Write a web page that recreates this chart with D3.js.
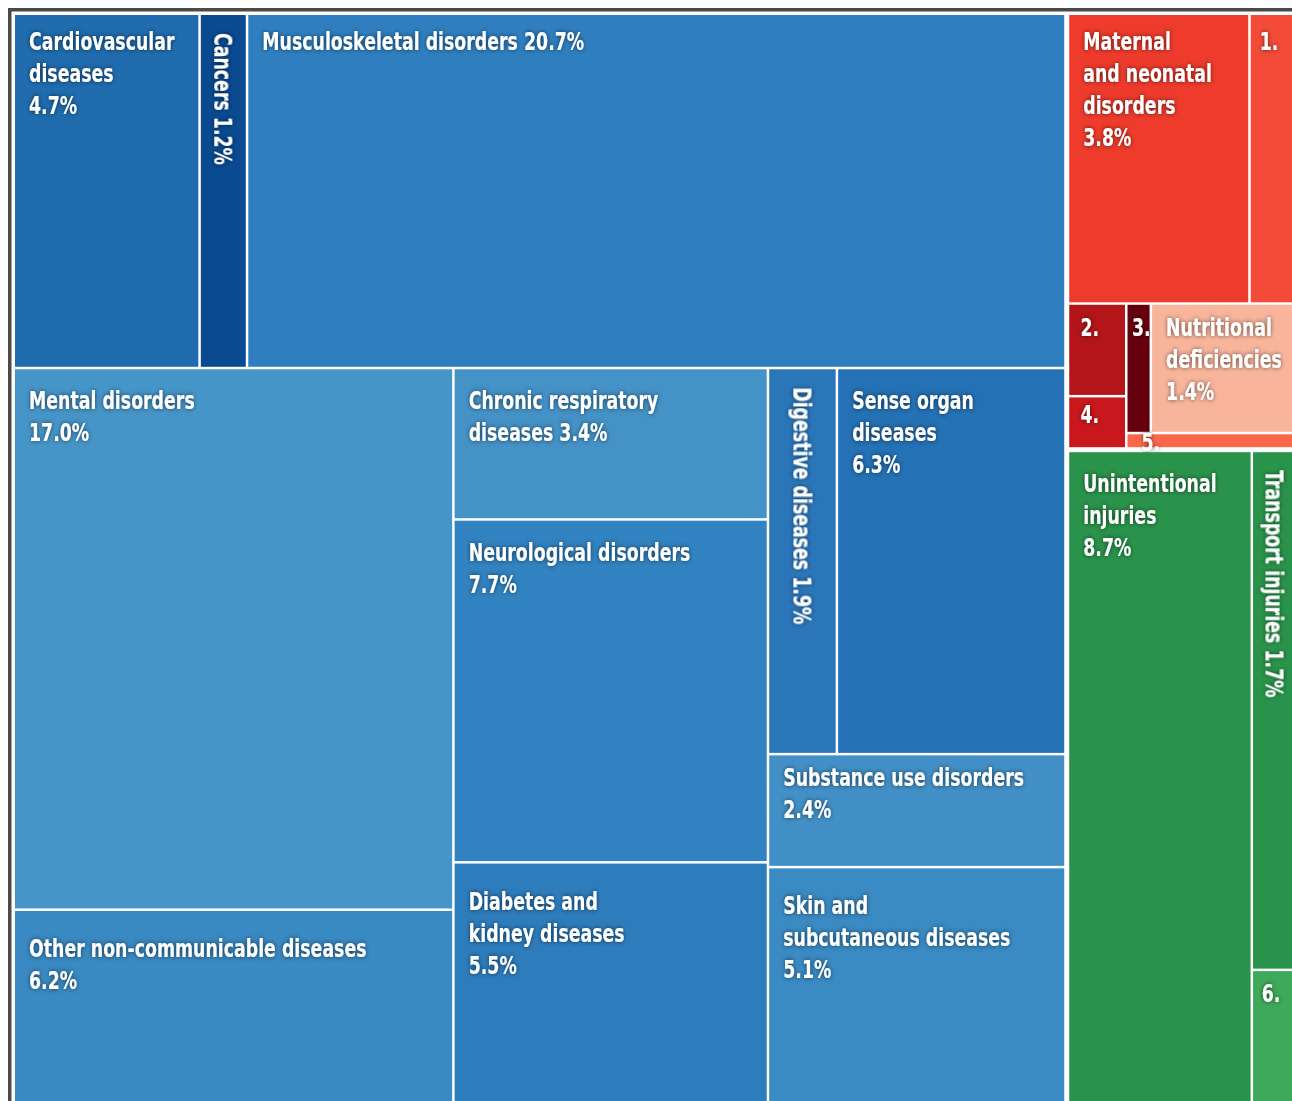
<!DOCTYPE html>
<html>
<head>
<meta charset="utf-8">
<script src="https://cdn.jsdelivr.net/npm/d3@7"></script>
<style>
  body { margin: 0; background: #fff; overflow: hidden; }
  svg { display: block; }
  text { font-family: "DejaVu Sans Condensed", "DejaVu Sans", sans-serif; font-weight: bold; fill: #fff; }
</style>
</head>
<body>
<svg id="chart" width="1292" height="1101"></svg>
<script>
// Non-communicable diseases (blue), share of total in %
const ncdTopRow = ['Cardiovascular diseases', 'Cancers', 'Musculoskeletal disorders'];
const ncdTopRowValues = [4.7, 1.2, 20.7];
const ncdCol1 = ['Mental disorders', 'Other non-communicable diseases'];
const ncdCol1Values = [17.0, 6.2];
const ncdCol2 = ['Chronic respiratory diseases', 'Neurological disorders', 'Diabetes and kidney diseases'];
const ncdCol2Values = [3.4, 7.7, 5.5];
const ncdCol3Pair = ['Digestive diseases', 'Sense organ diseases'];
const ncdCol3PairValues = [1.9, 6.3];
const ncdCol3 = ['Substance use disorders', 'Skin and subcutaneous diseases'];
const ncdCol3Values = [2.4, 5.1];

// Communicable, maternal, neonatal and nutritional (red)
const cmnnTopRow = ['Maternal and neonatal disorders', '1.'];
const cmnnTopRowValues = [3.8, 1.0];
const cmnnCol = ['2.', '4.'];
const cmnnColValues = [0.39, 0.22];
const cmnnPair = ['3.', 'Nutritional deficiencies'];
const cmnnPairValues = [0.23, 1.37];
const cmnnStrip = ['5.'];
const cmnnStripValues = [0.19];

// Injuries (green)
const injLeft = ['Unintentional injuries'];
const injLeftValues = [8.7];
const injCol = ['Transport injuries', '6.'];
const injColValues = [1.7, 0.45];

// how the labels break, {v} is the formatted share
const labelLines = {
  'Cardiovascular diseases': ['Cardiovascular', 'diseases', '{v}'],
  'Cancers': ['Cancers {v}'],
  'Musculoskeletal disorders': ['Musculoskeletal disorders {v}'],
  'Mental disorders': ['Mental disorders', '{v}'],
  'Other non-communicable diseases': ['Other non-communicable diseases', '{v}'],
  'Chronic respiratory diseases': ['Chronic respiratory', 'diseases {v}'],
  'Neurological disorders': ['Neurological disorders', '{v}'],
  'Diabetes and kidney diseases': ['Diabetes and', 'kidney diseases', '{v}'],
  'Digestive diseases': ['Digestive diseases {v}'],
  'Sense organ diseases': ['Sense organ', 'diseases', '{v}'],
  'Substance use disorders': ['Substance use disorders', '{v}'],
  'Skin and subcutaneous diseases': ['Skin and', 'subcutaneous diseases', '{v}'],
  'Maternal and neonatal disorders': ['Maternal', 'and neonatal', 'disorders', '{v}'],
  'Nutritional deficiencies': ['Nutritional', 'deficiencies', '{v}'],
  'Unintentional injuries': ['Unintentional', 'injuries', '{v}'],
  'Transport injuries': ['Transport injuries {v}']
};

const colors = {
  'Cardiovascular diseases': '#206cae',
  'Cancers': '#0a4a90',
  'Musculoskeletal disorders': '#2f7fc0',
  'Mental disorders': '#4695c8',
  'Other non-communicable diseases': '#3989c2',
  'Chronic respiratory diseases': '#4592c7',
  'Neurological disorders': '#3283c1',
  'Diabetes and kidney diseases': '#2d7cbc',
  'Digestive diseases': '#2b76b9',
  'Sense organ diseases': '#2471b5',
  'Substance use disorders': '#4290c7',
  'Skin and subcutaneous diseases': '#3a8ac3',
  'Maternal and neonatal disorders': '#ee3b2c',
  '1.': '#f34b38',
  '2.': '#b31519',
  '3.': '#67000d',
  '4.': '#c9181d',
  'Nutritional deficiencies': '#f9b59c',
  '5.': '#fa6849',
  'Unintentional injuries': '#2a934b',
  'Transport injuries': '#2a934b',
  '6.': '#3fa95b'
};

const MAP_X = 15, MAP_Y = 15;
const MAP_W = 1281, MAP_H = 1091;
const LINE_H = 32;
const FONT_PX = 25;

let leaves = function(names, values) {
  return names.map(function(n, i) { return { name: n, value: values[i] }; });
};

// 'row' nodes lay children left to right, 'col' nodes top to bottom
const tree = { dir: 'row', gap: 5, children: [
  { dir: 'col', children: [
    { dir: 'row', children: leaves(ncdTopRow, ncdTopRowValues) },
    { dir: 'row', children: [
      { dir: 'col', children: leaves(ncdCol1, ncdCol1Values) },
      { dir: 'col', children: leaves(ncdCol2, ncdCol2Values) },
      { dir: 'col', children: [{ dir: 'row', children: leaves(ncdCol3Pair, ncdCol3PairValues) }]
          .concat(leaves(ncdCol3, ncdCol3Values)) }
    ] }
  ] },
  { dir: 'col', gap: 5, children: [
    { dir: 'col', children: [
      { dir: 'row', children: leaves(cmnnTopRow, cmnnTopRowValues) },
      { dir: 'row', children: [
        { dir: 'col', children: leaves(cmnnCol, cmnnColValues) },
        { dir: 'col', children: [{ dir: 'row', children: leaves(cmnnPair, cmnnPairValues) }]
            .concat(leaves(cmnnStrip, cmnnStripValues)) }
      ] }
    ] },
    { dir: 'row', children: leaves(injLeft, injLeftValues)
        .concat([{ dir: 'col', children: leaves(injCol, injColValues) }]) }
  ] }
] };

let root = d3.hierarchy(tree).sum(function(d) { return d.value || 0; });

d3.treemap()
    .size([MAP_W, MAP_H])
    .tile(function(node, x0, y0, x1, y1) {
      (node.data.dir === 'row' ? d3.treemapDice : d3.treemapSlice)(node, x0, y0, x1, y1);
    })
    .paddingInner(function(node) { return node.data.gap || 2.5; })(root);

let svg = d3.select('#chart');

let defs = svg.append('defs');
let glow = defs.append('filter').attr('id', 'glow')
    .attr('x', '-20%').attr('y', '-40%').attr('width', '140%').attr('height', '180%');
glow.append('feGaussianBlur').attr('in', 'SourceAlpha').attr('stdDeviation', 2.5).attr('result', 'blur');
glow.append('feFlood').attr('flood-color', '#000').attr('flood-opacity', 0.6);
glow.append('feComposite').attr('in2', 'blur').attr('operator', 'in').attr('result', 'shadow');
let merge = glow.append('feMerge');
merge.append('feMergeNode').attr('in', 'shadow');
merge.append('feMergeNode').attr('in', 'SourceGraphic');

// the font is wider than the original condensed face, squeeze it to the same length
let probe = svg.append('text').attr('font-size', FONT_PX).text('Musculoskeletal disorders 20.7%');
const SQUEEZE = 322 / probe.node().getComputedTextLength();
probe.remove();

// frame around the map
svg.append('rect')
    .attr('x', 9.75).attr('y', 9.75)
    .attr('width', 1300).attr('height', 1110)
    .attr('fill', 'none')
    .attr('stroke', '#4a4a4a')
    .attr('stroke-width', 3.5);

let g = svg.append('g').attr('transform', 'translate(' + MAP_X + ',' + MAP_Y + ')');

let cells = g.selectAll('g.cell')
    .data(root.leaves())
    .join('g')
    .attr('class', 'cell');

cells.append('rect')
    .attr('x', function(d) { return d.x0; })
    .attr('y', function(d) { return d.y0; })
    .attr('width', function(d) { return d.x1 - d.x0; })
    .attr('height', function(d) { return d.y1 - d.y0; })
    .attr('fill', function(d) { return colors[d.data.name]; });

const fmt = d3.format('.1f');

cells.each(function(d) {
  let cell = d3.select(this);
  let lines = (labelLines[d.data.name] || [d.data.name]).map(function(s) {
    return s.replace('{v}', fmt(d.data.value) + '%');
  });
  let w = d.x1 - d.x0, h = d.y1 - d.y0;
  let text = cell.append('text')
      .attr('font-size', FONT_PX)
      .attr('filter', 'url(#glow)');

  if (w < 80 && lines[0].length > 3) {
    // narrow cell: run the label down the middle
    let cx = (d.x0 + d.x1) / 2, ty = d.y0 + 18;
    text.attr('transform', 'translate(' + cx + ',' + ty + ') rotate(90) scale(' + SQUEEZE + ',1)')
        .attr('dy', '0.36em')
        .text(lines.join(' '));
    return;
  }

  let base;
  if (h > 140) {
    base = 40;
    if (d.y0 < 100) base = 35;
    // wide cells running off the bottom edge sit their labels a little lower
    if (d.y1 > MAP_H - 1 && w > 250) base = 46;
  }
  else if (h > 60) base = 31;
  else if (h > 30) base = 26;
  else base = 17;
  let tx = d.x0 + Math.min(14, w * 0.2);
  text.attr('transform', 'translate(' + tx + ',' + (d.y0 + base) + ') scale(' + SQUEEZE + ',1)');
  text.selectAll('tspan')
      .data(lines)
      .join('tspan')
      .attr('x', 0)
      .attr('y', function(s, i) { return i * LINE_H; })
      .text(function(s) { return s; });
});
</script>
</body>
</html>
